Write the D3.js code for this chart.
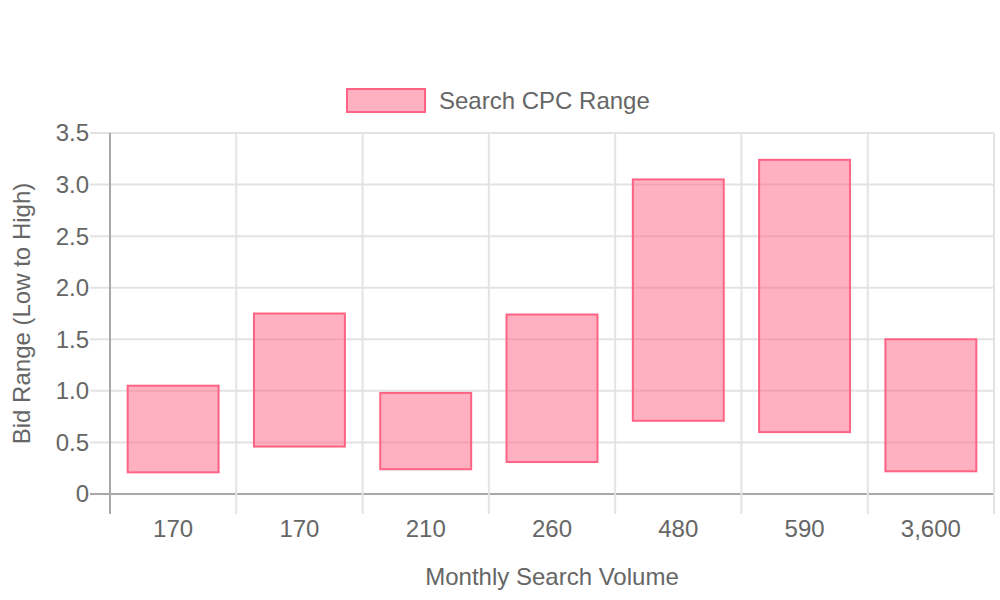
<!DOCTYPE html>
<html>
<head>
<meta charset="utf-8">
<script src="https://cdn.jsdelivr.net/npm/d3@7"></script>
<style>
  html, body { margin: 0; padding: 0; background: #fff; }
  svg { display: block; font-family: "Liberation Sans", Arial, Helvetica, sans-serif; }
</style>
</head>
<body>
<svg id="chart" width="1000" height="600"></svg>
<script>
const categories = ["170", "170", "210", "260", "480", "590", "3,600"];
const lowValues  = [0.21, 0.46, 0.24, 0.31, 0.71, 0.60, 0.22];
const highValues = [1.05, 1.75, 0.98, 1.74, 3.05, 3.24, 1.50];
const yTicks = [0, 0.5, 1.0, 1.5, 2.0, 2.5, 3.0, 3.5];
const seriesName = "Search CPC Range";
const xTitle = "Monthly Search Volume";
const yTitle = "Bid Range (Low to High)";

const svg = d3.select("#chart");
const pLeft = 110, pRight = 994, pTop = 133, pBottom = 494;
const grid = "#e3e3e3", axisCol = "#a8a8a8", textCol = "#666";
const fill = "rgba(255,99,132,0.5)", stroke = "rgb(255,99,132)";
const fs = 24;

const x = d3.scaleBand().domain(d3.range(categories.length)).range([pLeft, pRight]).padding(0);
const y = d3.scaleLinear().domain([0, 3.5]).range([pBottom, pTop]);

// horizontal grid
svg.append("g").selectAll("line").data(yTicks).join("line")
  .attr("x1", pLeft - 20).attr("x2", pRight)
  .attr("y1", d => y(d)).attr("y2", d => y(d))
  .attr("stroke", d => d === 0 ? axisCol : grid).attr("stroke-width", 2);

// vertical grid
const xb = d3.range(categories.length + 1).map(i => pLeft + i * x.bandwidth());
svg.append("g").selectAll("line").data(xb).join("line")
  .attr("x1", d => d).attr("x2", d => d)
  .attr("y1", pTop).attr("y2", pBottom + 20)
  .attr("stroke", (d, i) => i === 0 ? axisCol : grid).attr("stroke-width", 2);

// y tick labels
svg.append("g").selectAll("text").data(yTicks).join("text")
  .attr("x", pLeft - 21).attr("y", d => y(d)).attr("dy", "0.35em")
  .attr("text-anchor", "end").attr("fill", textCol).attr("font-size", fs)
  .text(d => d === 0 ? "0" : d3.format(".1f")(d));

// x tick labels
svg.append("g").selectAll("text").data(categories).join("text")
  .attr("x", (d, i) => x(i) + x.bandwidth() / 2).attr("y", 529).attr("dy", "0.35em")
  .attr("text-anchor", "middle").attr("fill", textCol).attr("font-size", fs)
  .text(d => d);

// bars
const bw = x.bandwidth() * 0.72;
svg.append("g").selectAll("rect").data(categories.map((c, i) => ({i, lo: lowValues[i], hi: highValues[i]}))).join("rect")
  .attr("x", d => x(d.i) + (x.bandwidth() - bw) / 2)
  .attr("width", bw)
  .attr("y", d => y(d.hi))
  .attr("height", d => y(d.lo) - y(d.hi))
  .attr("fill", fill).attr("stroke", stroke).attr("stroke-width", 2);

// axis titles
svg.append("text").attr("x", (pLeft + pRight) / 2).attr("y", 577).attr("dy", "0.35em")
  .attr("text-anchor", "middle").attr("fill", textCol).attr("font-size", fs).text(xTitle);
svg.append("text").attr("transform", `translate(22,${(pTop + pBottom) / 2}) rotate(-90)`).attr("dy", "0.35em")
  .attr("text-anchor", "middle").attr("fill", textCol).attr("font-size", fs).text(yTitle);

// legend
const lg = svg.append("g");
lg.append("rect").attr("x", 347).attr("y", 89).attr("width", 78).attr("height", 23)
  .attr("fill", fill).attr("stroke", stroke).attr("stroke-width", 2);
lg.append("text").attr("x", 439).attr("y", 101).attr("dy", "0.35em")
  .attr("fill", textCol).attr("font-size", fs).text(seriesName);
</script>
</body>
</html>
